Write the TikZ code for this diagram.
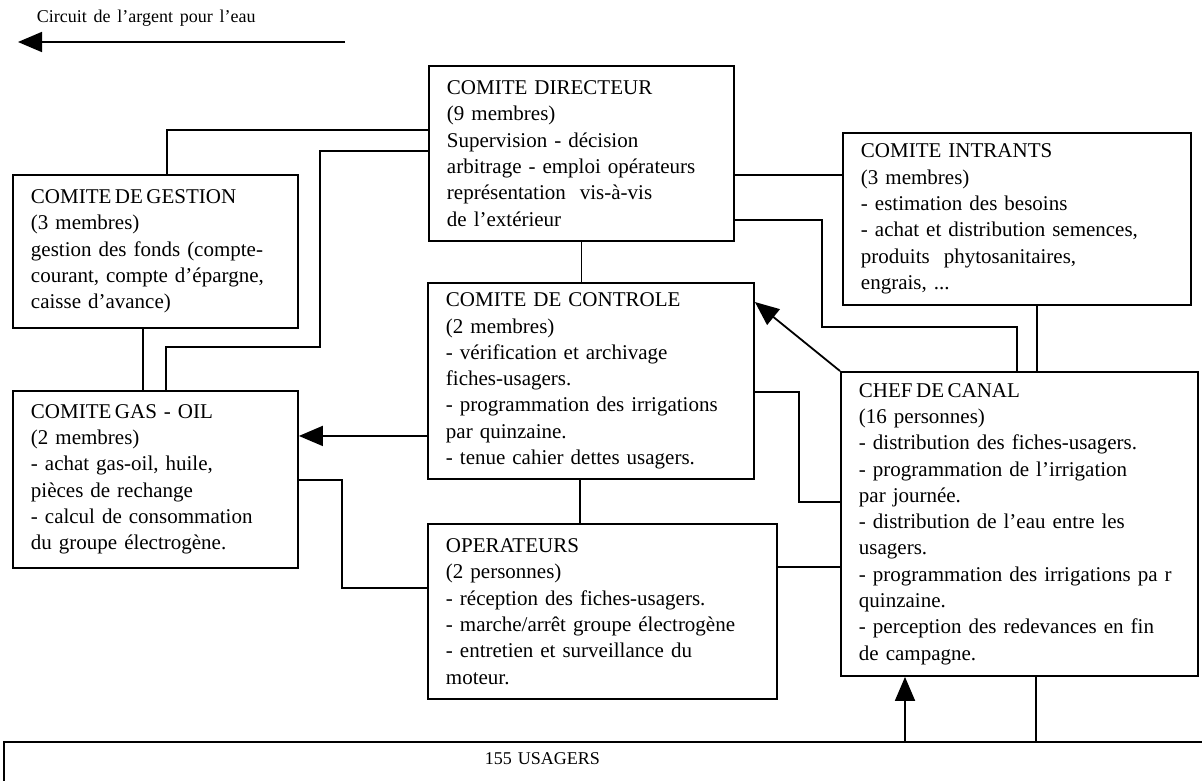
\documentclass[tikz,border=0pt]{standalone}
\usepackage{fontspec}
\setmainfont{Liberation Serif}[WordSpace=1.5]
\usetikzlibrary{arrows.meta}
\newcommand\pleine[1]{\makebox[\hsize][s]{#1}}
\tikzset{
  box/.style={draw, line width=1.9pt, anchor=north west, align=left, inner xsep=18pt, inner ysep=4pt, font=\fontsize{21}{26.3}\selectfont},
  fleche/.style={-{Triangle[length=24pt,width=20pt]}},
}
\begin{document}
\begin{tikzpicture}[x=1pt,y=-1pt,line width=1.8pt]
  \useasboundingbox (0,0) rectangle (1202,780);

  % legende
  \node[anchor=west, font=\fontsize{18}{20}\selectfont, inner sep=0pt] (legende) at (36,18) {Circuit de l'argent pour l'eau};
  \coordinate (legA) at (345,42);
  \coordinate (legB) at (18,42);
  \draw[fleche] (legA) -- (legB);

  % comites
  \node[box, text width=269pt, minimum height=175pt] (directeur) at (428,65)
    {COMITE DIRECTEUR\\(9 membres)\\Supervision - décision\\\pleine{arbitrage - emploi opérateurs}\\représentation~ vis-à-vis\\de l'extérieur};
  \node[box, text width=249pt, minimum height=153pt] (gestion) at (12,174)
    {COMITE\,DE\,GESTION\\(3 membres)\\\pleine{gestion des fonds (compte-}\\\pleine{courant, compte d'épargne,}\\caisse d'avance)};
  \node[box, text width=312pt, minimum height=172pt] (intrants) at (842,132)
    {COMITE INTRANTS\\(3 membres)\\- estimation des besoins\\\pleine{- achat et distribution semences,}\\produits~ phytosanitaires,\\engrais, ...};
  \node[box, text width=290pt, minimum height=196pt] (controle) at (427,282)
    {COMITE DE CONTROLE\\(2 membres)\\- vérification et archivage\\fiches-usagers.\\\pleine{- programmation des irrigations}\\par quinzaine.\\- tenue cahier dettes usagers.};
  \node[box, text width=249pt, minimum height=177pt] (gasoil) at (12,390)
    {COMITE\,GAS - OIL\\(2 membres)\\- achat gas-oil, huile,\\pièces de rechange\\\pleine{- calcul de consommation}\\du groupe électrogène.};
  \node[box, text width=313pt, minimum height=175pt] (operateurs) at (427,523)
    {OPERATEURS\\(2 personnes)\\- réception des fiches-usagers.\\\pleine{- marche/arrêt groupe électrogène}\\- entretien et surveillance du\\moteur.};
  \node[box, text width=321pt, minimum height=304pt] (chef) at (840,371)
    {CHEF\,DE\,CANAL\\(16 personnes)\\- distribution des fiches-usagers.\\- programmation de l'irrigation\\par journée.\\- distribution de l'eau entre les\\usagers.\\\pleine{- programmation des irrigations pa r}\\quinzaine.\\- perception des redevances en fin\\de campagne.};
  \node[box, text width=1230pt, minimum height=46pt, text depth=12pt, font=\fontsize{18}{22}\selectfont] (usagers) at (3,741)
    {\hspace*{463pt}155 USAGERS};

  % liaisons
  \draw ([xshift=155pt]gestion.north west) |- ([yshift=-65pt]directeur.north west);
  \draw ([yshift=-86pt]directeur.north west) -- ++(-108,0) -- ++(0,196) -| ([xshift=154pt]gasoil.north west);
  \draw ([xshift=131pt]gestion.south west) -- ([xshift=131pt]gasoil.north west);
  \draw (directeur.south) -- (directeur.south |- controle.north);
  \draw ([xshift=153pt]controle.south west) -- ([xshift=153pt]operateurs.north west);
  \coordinate (c1) at ([yshift=-55pt]controle.west);
  \draw[fleche] (c1) -- (c1 -| gasoil.east);
  \draw ([yshift=-90pt]gasoil.north east) -- ++(43,0) |- ([yshift=-65pt]operateurs.north west);
  \coordinate (d1) at ([yshift=-110pt]directeur.north east);
  \draw (d1) -- (d1 -| intrants.west);
  \draw ([yshift=-155pt]directeur.north east) -- ++(87,0) -- ++(0,107) -| ([xshift=177pt]chef.north west);
  \coordinate (i1) at ([xshift=195pt]intrants.south west);
  \draw (i1) -- (i1 |- chef.north);
  \draw[fleche] (chef.north west) -- ([yshift=-20pt]controle.north east);
  \draw ([yshift=-110pt]controle.north east) -- ++(44,0) |- ([yshift=-131pt]chef.north west);
  \coordinate (o1) at ([yshift=-44pt]operateurs.north east);
  \draw (o1) -- (o1 -| chef.west);
  \coordinate (u1) at ([xshift=65pt]chef.south west);
  \draw[fleche] (u1 |- usagers.north) -- (u1);
  \coordinate (u2) at ([xshift=196pt]chef.south west);
  \draw (u2) -- (u2 |- usagers.north);
\end{tikzpicture}
\end{document}
